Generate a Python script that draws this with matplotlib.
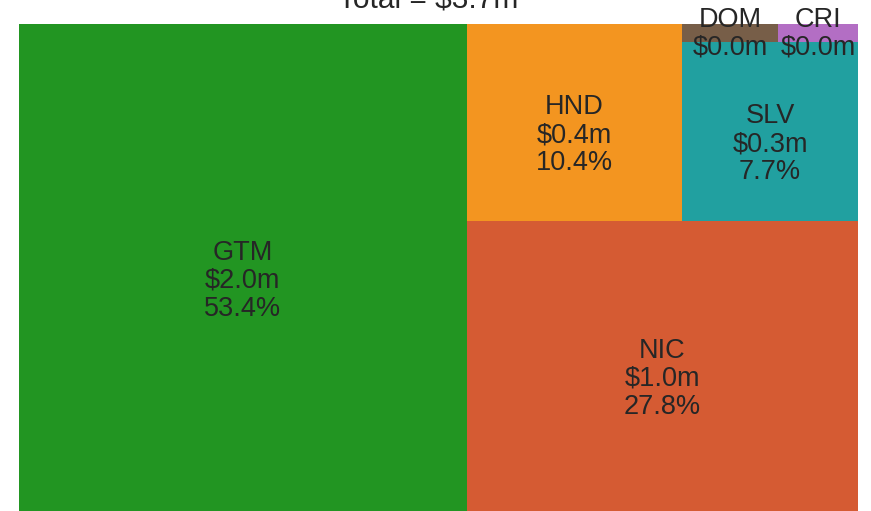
import matplotlib
matplotlib.use("Agg")
import matplotlib.pyplot as plt
from matplotlib.patches import Rectangle

plt.rcParams['font.family'] = ['Liberation Sans', 'DejaVu Sans']

# ---- data ----
countries = ["GTM", "NIC", "HND", "SLV", "DOM", "CRI"]
values_m = [1.975, 1.028, 0.384, 0.285, 0.0155, 0.013]   # $ millions
colors = ["#229522", "#D55B33", "#F39520", "#21A0A0", "#775E48", "#B36EC4"]
title_text = "Total = ${:.1f}m"

TEXT_COLOR = "#262626"

# ---- squarify layout ----
def layoutrow(sizes, x, y, dx, dy):
    width = sum(sizes) / dy
    rects = []
    for s in sizes:
        rects.append((x, y, width, s / width))
        y += s / width
    return rects

def layoutcol(sizes, x, y, dx, dy):
    height = sum(sizes) / dx
    rects = []
    for s in sizes:
        rects.append((x, y, s / height, height))
        x += s / height
    return rects

def layout(sizes, x, y, dx, dy):
    return layoutrow(sizes, x, y, dx, dy) if dx >= dy else layoutcol(sizes, x, y, dx, dy)

def leftover(sizes, x, y, dx, dy):
    if dx >= dy:
        w = sum(sizes) / dy
        return x + w, y, dx - w, dy
    h = sum(sizes) / dx
    return x, y + h, dx, dy - h

def worst(sizes, x, y, dx, dy):
    return max(max(r[2] / r[3], r[3] / r[2]) for r in layout(sizes, x, y, dx, dy))

def squarify(sizes, x, y, dx, dy):
    if not sizes:
        return []
    if len(sizes) == 1:
        return layout(sizes, x, y, dx, dy)
    i = 1
    while i < len(sizes) and worst(sizes[:i], x, y, dx, dy) >= worst(sizes[:i + 1], x, y, dx, dy):
        i += 1
    cur, rest = sizes[:i], sizes[i:]
    lx, ly, ldx, ldy = leftover(cur, x, y, dx, dy)
    return layout(cur, x, y, dx, dy) + squarify(rest, lx, ly, ldx, ldy)

W, H = 839.0, 487.0
total = sum(values_m)
norm = [v / total * W * H for v in values_m]
rects = squarify(norm, 0, 0, W, H)

fig = plt.figure(figsize=(8.71, 5.11), dpi=100)
ax = fig.add_axes([19 / 871, 0, W / 871, H / 511])
ax.set_xlim(0, W)
ax.set_ylim(0, H)
ax.axis("off")

for (x, y, dx, dy), name, v, c in zip(rects, countries, values_m, colors):
    ax.add_patch(Rectangle((x, y), dx, dy, facecolor=c, edgecolor="none"))
    pct = v / total * 100
    lines = [name, f"${v:.1f}m"]
    if dy > 40:
        lines.append(f"{pct:.1f}%")
        shift = -13
    else:
        shift = -1
    ax.text(x + dx / 2, y + dy / 2 + shift, "\n".join(lines), ha="center", va="center",
            fontsize=19.5, color=TEXT_COLOR, linespacing=1.1, clip_on=False)

fig.text(428 / 871, 1 - 8 / 511, title_text.format(total), ha="center", va="baseline",
         fontsize=21.5, color=TEXT_COLOR)

fig.savefig("out.png", dpi=100)
